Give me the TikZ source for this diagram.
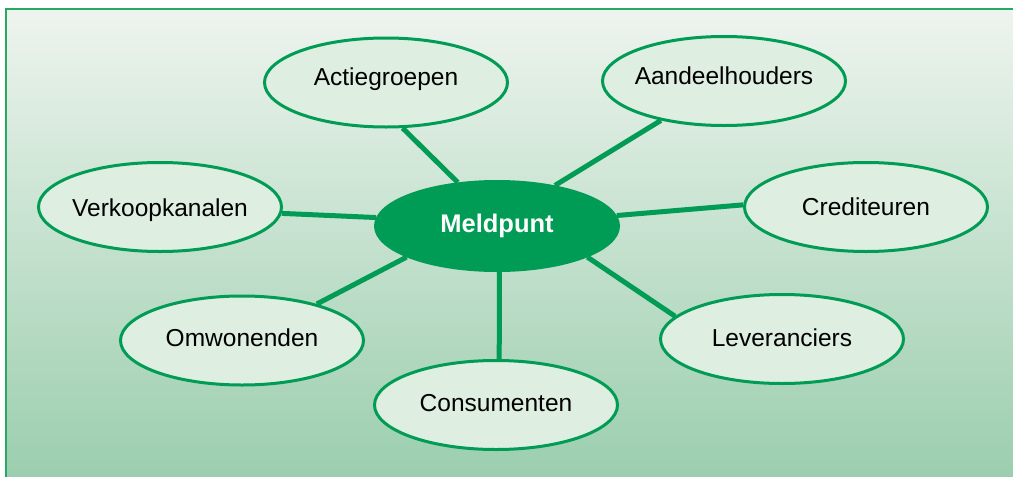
\documentclass[tikz,border=0pt]{standalone}
\usepackage{fontspec}
\setmainfont{Liberation Sans}
\usetikzlibrary{shapes.geometric}
\definecolor{leaf}{RGB}{0,155,85}
\definecolor{pale}{RGB}{222,238,225}
\definecolor{frameline}{RGB}{40,168,98}
\definecolor{bgtop}{RGB}{238,244,238}
\definecolor{bgmid}{RGB}{208,230,214}
\definecolor{bgbot}{RGB}{155,206,174}
\pgfdeclarelayer{bg}
\pgfdeclarelayer{links}
\pgfsetlayers{bg,links,main}
\begin{document}
\begin{tikzpicture}[x=1pt,y=-1pt,
  oval/.style={ellipse, draw=leaf, line width=3pt, fill=pale,
    minimum width=243pt, minimum height=89pt, inner sep=0pt},
  hub/.style={oval, fill=leaf, text=white, font=\fontsize{25.5}{30}\selectfont\bfseries},
  lbl/.style={font=\fontsize{24.5}{29}\selectfont, inner sep=0pt},
  link/.style={draw=leaf, line width=5pt}]
\useasboundingbox (0,0) rectangle (1013,477);

% central hub and the surrounding parties
\node[hub] (meld) at (497,226) {Meldpunt};
\node[oval, label={[lbl,yshift=3.5pt]center:Actiegroepen}]   (act) at (386,82.5) {};
\node[oval, label={[lbl,yshift=5pt]center:Aandeelhouders}]   (aan) at (724,81) {};
\node[oval, label={[lbl,yshift=-3pt]center:Verkoopkanalen}]  (ver) at (160,207) {};
\node[oval, label={[lbl]center:Crediteuren}]                 (cre) at (866,207) {};
\node[oval, label={[lbl,yshift=2.5pt]center:Omwonenden}]     (omw) at (242,340.5) {};
\node[oval, label={[lbl,yshift=1pt]center:Leveranciers}]     (lev) at (782,339) {};
\node[oval, label={[lbl,yshift=2pt]center:Consumenten}]      (con) at (496,405) {};

% spokes, kept underneath the ellipses
\begin{pgfonlayer}{links}
  \draw[link] (act.-70)   -- (meld.132);
  \draw[link] (aan.212)   -- (meld.35);
  \draw[link] (ver.-3.7)  -- (meld.176.8);
  \draw[link] (cre.179.5) -- (meld.5.2);
  \draw[link] (omw.26.6)  -- (meld.199.6);
  \draw[link] (lev.168.4) -- (meld.-19.7);
  \draw[link] (con.86)    -- (meld.-87.5);
\end{pgfonlayer}

% shaded panel with its frame on the top and left sides
\begin{pgfonlayer}{bg}
  \shade[top color=bgtop, middle color=bgmid, bottom color=bgbot]
    (6,9) rectangle (1013,477);
  \draw[frameline, line width=2pt] (6,477) -- (6,9) -- (1013,9);
\end{pgfonlayer}
\end{tikzpicture}
\end{document}
